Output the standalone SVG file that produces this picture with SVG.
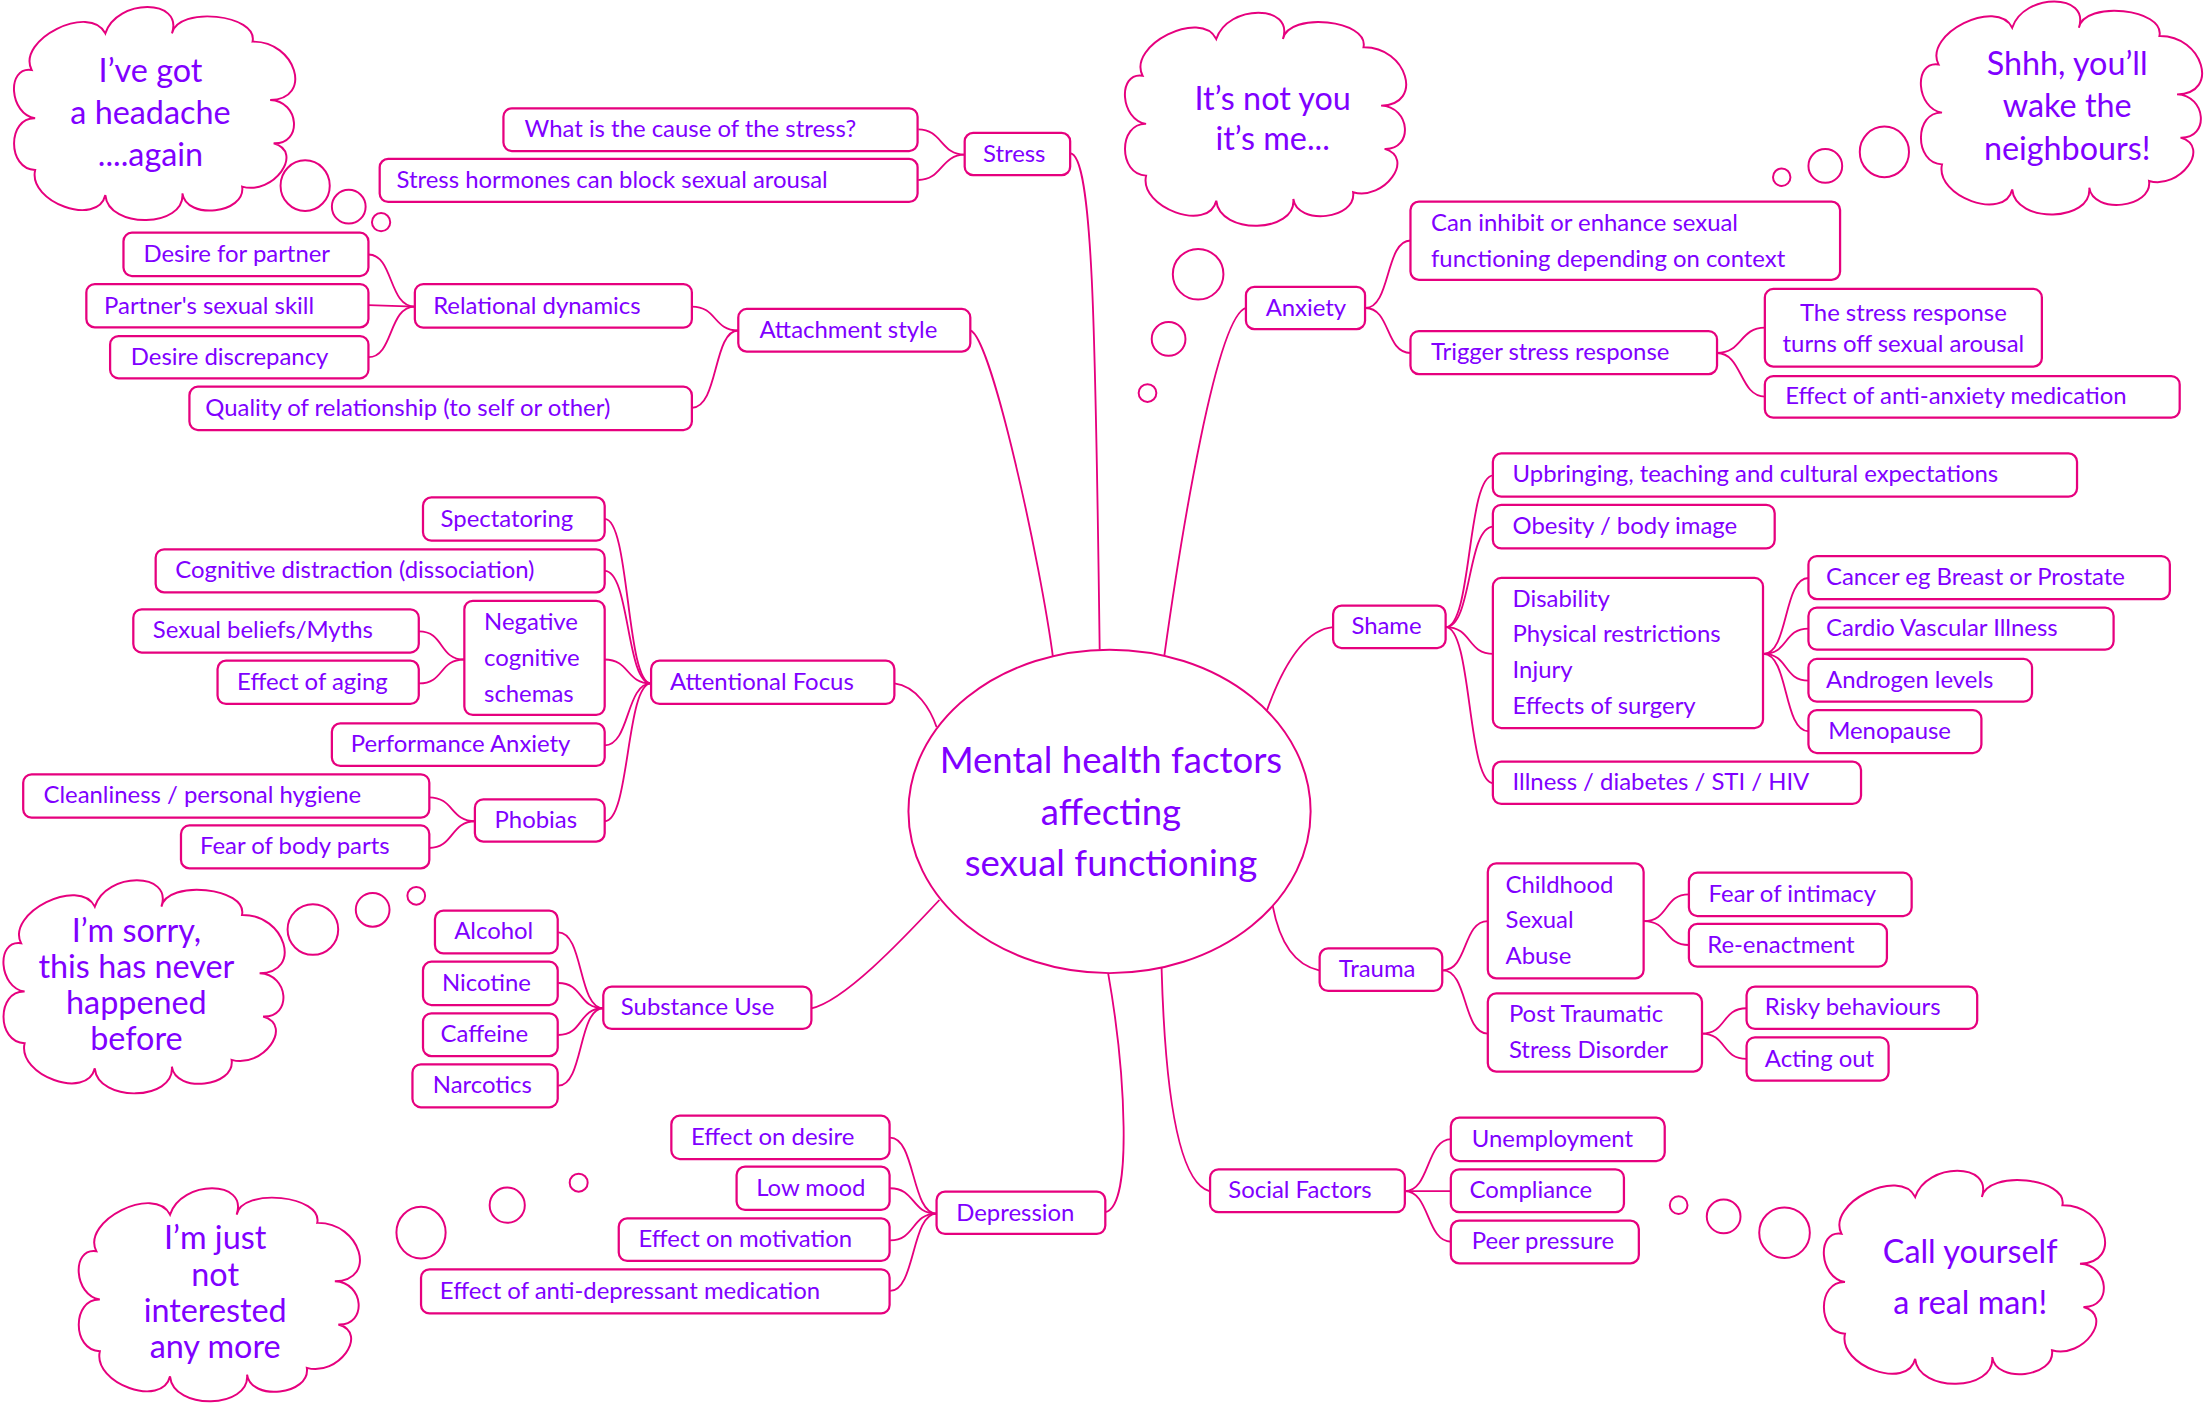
<svg xmlns="http://www.w3.org/2000/svg" width="2205" height="1404" viewBox="0 0 2205 1404">
<defs>
<style>
.b{fill:#fff;stroke:#E6007E;stroke-width:1.6}
.c{fill:none;stroke:#E6007E;stroke-width:1.3}
.cl{fill:#fff;stroke:#E6007E;stroke-width:1.4}
.t{font-family:Lato,"Open Sans",sans-serif;font-size:17px;fill:#8000FF}
.ct{font-family:Lato,"Open Sans",sans-serif;font-size:23px;fill:#8000FF;text-anchor:middle}
.mt{font-family:Lato,"Open Sans",sans-serif;font-size:26px;fill:#8000FF;text-anchor:middle}
</style>
<path id="cloud" d="M22.5,49.8 C11.57,28.13 63.97,2.03 74.9,23.7 C83.17,-1.23 130.57,-1.23 122.3,23.7 C126.37,4.17 183.67,10.07 179.6,29.6 C210.47,29.13 222.97,70.63 192.1,71.1 C212.97,71.77 215.47,102.57 194.6,101.9 C216.73,108.17 194.33,138.97 172.2,132.7 C174.93,151.9 132.43,156.7 129.7,137.5 C131.97,162.03 77.17,163.23 74.9,138.7 C69.63,161.63 19.73,143.83 25,120.9 C5,120.23 5,83.43 25,84.1 C6.67,81.5 4.17,47.2 22.5,49.8 Z"/>
</defs>
<rect width="2205" height="1404" fill="#fff"/>
<g transform="scale(1.40625)">
<g id="connectors">
<path class="c" d="M653,92 C670,92 669,110 686,110"/>
<path class="c" d="M653,128 C670,128 669,110 686,110"/>
<path class="c" d="M262,181 C280,181 276,218 295,218"/>
<path class="c" d="M262,217 L295,218"/>
<path class="c" d="M262,254 C280,254 276,218 295,218"/>
<path class="c" d="M492,218 C510,218 507,235 525,235"/>
<path class="c" d="M492,290 C511,290 507,235 525,235"/>
<path class="c" d="M971,219 C989,219 985,171 1003,171"/>
<path class="c" d="M971,219 C989,219 985,251 1003,251"/>
<path class="c" d="M1221,251 C1239,251 1237,233 1255,233"/>
<path class="c" d="M1221,251 C1239,251 1237,282 1255,282"/>
<path class="c" d="M1028,446 C1047,446 1043,338 1062,338"/>
<path class="c" d="M1028,446 C1047,446 1043,374.5 1062,374.5"/>
<path class="c" d="M1028,446 C1047,446 1043,465 1062,465"/>
<path class="c" d="M1028,446 C1047,446 1043,557 1062,557"/>
<path class="c" d="M1254,465 C1272,465 1268,411 1286,411"/>
<path class="c" d="M1254,465 C1272,465 1268,447 1286,447"/>
<path class="c" d="M1254,465 C1272,465 1268,484 1286,484"/>
<path class="c" d="M1254,465 C1272,465 1268,520 1286,520"/>
<path class="c" d="M1026,690 C1044,690 1040,655 1058,655"/>
<path class="c" d="M1026,690 C1044,690 1040,735 1058,735"/>
<path class="c" d="M1169,655 C1187,655 1183,636 1201,636"/>
<path class="c" d="M1169,655 C1187,655 1183,672 1201,672"/>
<path class="c" d="M1210,735 C1228,735 1224,717 1242,717"/>
<path class="c" d="M1210,735 C1228,735 1224,753 1242,753"/>
<path class="c" d="M999,847 C1017,847 1014,810 1032,810"/>
<path class="c" d="M999,847 L1032,847"/>
<path class="c" d="M999,847 C1017,847 1014,883 1032,883"/>
<path class="c" d="M633,809 C651,809 648,863 666,863"/>
<path class="c" d="M633,845 C651,845 648,863 666,863"/>
<path class="c" d="M633,882 C651,882 648,863 666,863"/>
<path class="c" d="M633,918 C651,918 648,863 666,863"/>
<path class="c" d="M397,663 C415,663 411,717 429,717"/>
<path class="c" d="M397,699 C415,699 411,717 429,717"/>
<path class="c" d="M397,736 C415,736 411,717 429,717"/>
<path class="c" d="M397,772 C415,772 411,717 429,717"/>
<path class="c" d="M430,369 C448,369 445,486 463,486"/>
<path class="c" d="M430,406 C448,406 445,486 463,486"/>
<path class="c" d="M430,469 C448,469 445,486 463,486"/>
<path class="c" d="M430,530 C448,530 445,486 463,486"/>
<path class="c" d="M430,584 C448,584 445,486 463,486"/>
<path class="c" d="M298,449 C316,449 312,469 330,469"/>
<path class="c" d="M298,486 C316,486 312,469 330,469"/>
<path class="c" d="M305,567 C323,567 320,584 338,584"/>
<path class="c" d="M305,603 C323,603 320,584 338,584"/>
<path class="c" d="M761,109 C777,110 779,230 782,462"/>
<path class="c" d="M690,235 C705,240 740,400 749,469"/>
<path class="c" d="M886,219 C865,225 840,380 828,466"/>
<path class="c" d="M948,446 C925,448 910,480 901,505"/>
<path class="c" d="M636,486 C652,488 662,505 666,517"/>
<path class="c" d="M577,717 C600,712 640,670 668,640"/>
<path class="c" d="M938,690 C915,685 908,660 905,644"/>
<path class="c" d="M860,847 C835,840 828,760 826,688"/>
<path class="c" d="M786,862 C806,858 800,760 788,692"/>
</g>
<g id="center">
<ellipse class="cl" cx="789" cy="577" rx="143" ry="115"/>
<text class="mt" x="790" y="550">Mental health factors</text>
<text class="mt" x="790" y="587">affecting</text>
<text class="mt" x="790" y="623">sexual functioning</text>
</g>
<g id="n_stress"><rect class="b" x="686" y="94.5" width="75" height="30" rx="6"/><text class="t" x="699" y="115">Stress</text></g>
<g id="n_cause"><rect class="b" x="358" y="77" width="294.5" height="30.4" rx="6"/><text class="t" x="373" y="97.5">What is the cause of the stress?</text></g>
<g id="n_hormones"><rect class="b" x="270" y="113" width="382.5" height="30.6" rx="6"/><text class="t" x="282" y="133.5">Stress hormones can block sexual arousal</text></g>
<g id="n_attach"><rect class="b" x="525" y="219.7" width="165" height="30.3" rx="6"/><text class="t" x="540" y="240.5">Attachment style</text></g>
<g id="n_reldyn"><rect class="b" x="295" y="202" width="197" height="31" rx="6"/><text class="t" x="308" y="223">Relational dynamics</text></g>
<g id="n_desire"><rect class="b" x="87.8" y="165.5" width="174.2" height="30.8" rx="6"/><text class="t" x="102" y="186.5">Desire for partner</text></g>
<g id="n_skill"><rect class="b" x="61.4" y="202" width="200.6" height="30.8" rx="6"/><text class="t" x="74" y="223">Partner's sexual skill</text></g>
<g id="n_discrep"><rect class="b" x="78.3" y="239" width="183.7" height="30" rx="6"/><text class="t" x="93" y="259.5">Desire discrepancy</text></g>
<g id="n_quality"><rect class="b" x="134.7" y="275" width="357.3" height="30.8" rx="6"/><text class="t" x="146" y="296">Quality of relationship (to self or other)</text></g>
<g id="n_anxiety"><rect class="b" x="886" y="204" width="84.7" height="30" rx="6"/><text class="t" x="900" y="224.5">Anxiety</text></g>
<g id="n_inhibit"><rect class="b" x="1003" y="143.4" width="305.5" height="55.6" rx="6"/><text class="t" x="1017.6" y="164">Can inhibit or enhance sexual</text><text class="t" x="1017.6" y="190">functioning depending on context</text></g>
<g id="n_trigger"><rect class="b" x="1003" y="235.4" width="218" height="30.6" rx="6"/><text class="t" x="1017.6" y="256">Trigger stress response</text></g>
<g id="n_stressresp"><rect class="b" x="1255" y="205.5" width="197" height="55.2" rx="6"/><text class="t" x="1353.5" y="228" text-anchor="middle">The stress response</text><text class="t" x="1353.5" y="250" text-anchor="middle">turns off sexual arousal</text></g>
<g id="n_antianx"><rect class="b" x="1255" y="267.4" width="295" height="29.6" rx="6"/><text class="t" x="1269.5" y="287.5">Effect of anti-anxiety medication</text></g>
<g id="n_shame"><rect class="b" x="948" y="430.7" width="80" height="30.1" rx="6"/><text class="t" x="961" y="451">Shame</text></g>
<g id="n_upbring"><rect class="b" x="1061.6" y="322.4" width="415.4" height="30.8" rx="6"/><text class="t" x="1075.6" y="343">Upbringing, teaching and cultural expectations</text></g>
<g id="n_obesity"><rect class="b" x="1061.6" y="359" width="200.4" height="31" rx="6"/><text class="t" x="1075.6" y="380">Obesity / body image</text></g>
<g id="n_disab"><rect class="b" x="1061.6" y="411" width="192.1" height="106.7" rx="6"/><text class="t" x="1075.6" y="431.5">Disability</text><text class="t" x="1075.6" y="456.5">Physical restrictions</text><text class="t" x="1075.6" y="482">Injury</text><text class="t" x="1075.6" y="507.5">Effects of surgery</text></g>
<g id="n_cancer"><rect class="b" x="1286" y="395.4" width="257" height="30.6" rx="6"/><text class="t" x="1298.5" y="416">Cancer eg Breast or Prostate</text></g>
<g id="n_cardio"><rect class="b" x="1286" y="432" width="217" height="30" rx="6"/><text class="t" x="1298.5" y="452.5">Cardio Vascular Illness</text></g>
<g id="n_androgen"><rect class="b" x="1286" y="468.6" width="159" height="30.4" rx="6"/><text class="t" x="1298.5" y="489">Androgen levels</text></g>
<g id="n_menop"><rect class="b" x="1286" y="505" width="123" height="30.5" rx="6"/><text class="t" x="1300" y="525.5">Menopause</text></g>
<g id="n_illness"><rect class="b" x="1061.6" y="541.6" width="261.8" height="30.1" rx="6"/><text class="t" x="1075.6" y="562">Illness / diabetes / STI / HIV</text></g>
<g id="n_trauma"><rect class="b" x="938.4" y="674.4" width="87.2" height="30.3" rx="6"/><text class="t" x="952" y="695">Trauma</text></g>
<g id="n_csa"><rect class="b" x="1058" y="614" width="110.8" height="81.7" rx="6"/><text class="t" x="1070.6" y="634.8">Childhood</text><text class="t" x="1070.6" y="659.7">Sexual</text><text class="t" x="1070.6" y="685.3">Abuse</text></g>
<g id="n_fear"><rect class="b" x="1201" y="620.6" width="158.4" height="30.8" rx="6"/><text class="t" x="1215" y="641.5">Fear of intimacy</text></g>
<g id="n_reenact"><rect class="b" x="1201" y="657" width="140.8" height="30.4" rx="6"/><text class="t" x="1214" y="677.5">Re-enactment</text></g>
<g id="n_ptsd"><rect class="b" x="1058" y="706.4" width="152.3" height="55.6" rx="6"/><text class="t" x="1073" y="726.5">Post Traumatic</text><text class="t" x="1073" y="752.2">Stress Disorder</text></g>
<g id="n_risky"><rect class="b" x="1242" y="701.6" width="164" height="30.1" rx="6"/><text class="t" x="1255" y="722">Risky behaviours</text></g>
<g id="n_acting"><rect class="b" x="1242" y="737.6" width="101" height="30.9" rx="6"/><text class="t" x="1255" y="758.5">Acting out</text></g>
<g id="n_social"><rect class="b" x="860.5" y="831.5" width="138.5" height="30.5" rx="6"/><text class="t" x="873.5" y="852">Social Factors</text></g>
<g id="n_unemp"><rect class="b" x="1031.7" y="794.8" width="152.1" height="30.8" rx="6"/><text class="t" x="1046.6" y="815.5">Unemployment</text></g>
<g id="n_compl"><rect class="b" x="1031.7" y="831.5" width="123.1" height="30.5" rx="6"/><text class="t" x="1045" y="852">Compliance</text></g>
<g id="n_peer"><rect class="b" x="1031.7" y="868" width="133.7" height="30.4" rx="6"/><text class="t" x="1046.6" y="888.5">Peer pressure</text></g>
<g id="n_depr"><rect class="b" x="666" y="847.4" width="120" height="30.1" rx="6"/><text class="t" x="680" y="868">Depression</text></g>
<g id="n_effdesire"><rect class="b" x="477.4" y="793.4" width="155.2" height="30.8" rx="6"/><text class="t" x="491.4" y="814">Effect on desire</text></g>
<g id="n_lowmood"><rect class="b" x="523.8" y="829.6" width="108.8" height="30.8" rx="6"/><text class="t" x="537.7" y="850.5">Low mood</text></g>
<g id="n_effmot"><rect class="b" x="440" y="866.4" width="192.6" height="30.3" rx="6"/><text class="t" x="454" y="887">Effect on motivation</text></g>
<g id="n_antidep"><rect class="b" x="299.4" y="902.6" width="333.2" height="31.4" rx="6"/><text class="t" x="312.8" y="923.5">Effect of anti-depressant medication</text></g>
<g id="n_subst"><rect class="b" x="429" y="701.6" width="148" height="30.1" rx="6"/><text class="t" x="441.5" y="722">Substance Use</text></g>
<g id="n_alcohol"><rect class="b" x="309.3" y="647.6" width="87.3" height="30.4" rx="6"/><text class="t" x="323" y="668">Alcohol</text></g>
<g id="n_nicotine"><rect class="b" x="300.8" y="683.9" width="95.8" height="30.8" rx="6"/><text class="t" x="314.3" y="704.5">Nicotine</text></g>
<g id="n_caffeine"><rect class="b" x="300.8" y="720.6" width="95.8" height="30.4" rx="6"/><text class="t" x="313.3" y="741">Caffeine</text></g>
<g id="n_narcotics"><rect class="b" x="293.3" y="756.8" width="103.3" height="30.6" rx="6"/><text class="t" x="307.8" y="777.5">Narcotics</text></g>
<g id="n_af"><rect class="b" x="463" y="469.8" width="173" height="30.8" rx="6"/><text class="t" x="476.4" y="490.5">Attentional Focus</text></g>
<g id="n_spect"><rect class="b" x="300.8" y="353.7" width="129.2" height="30.8" rx="6"/><text class="t" x="313.3" y="374.5">Spectatoring</text></g>
<g id="n_cogdist"><rect class="b" x="110.7" y="390.6" width="319.3" height="30.6" rx="6"/><text class="t" x="124.7" y="411">Cognitive distraction (dissociation)</text></g>
<g id="n_beliefs"><rect class="b" x="94.8" y="433.3" width="203" height="30.7" rx="6"/><text class="t" x="108.7" y="454">Sexual beliefs/Myths</text></g>
<g id="n_aging"><rect class="b" x="154.7" y="469.8" width="143.1" height="30.8" rx="6"/><text class="t" x="168.6" y="490.5">Effect of aging</text></g>
<g id="n_negcog"><rect class="b" x="330.2" y="427.2" width="99.8" height="81.2" rx="6"/><text class="t" x="344.2" y="448">Negative</text><text class="t" x="344.2" y="473.5">cognitive</text><text class="t" x="344.2" y="499">schemas</text></g>
<g id="n_perf"><rect class="b" x="236" y="514.4" width="194" height="30.3" rx="6"/><text class="t" x="249.4" y="535">Performance Anxiety</text></g>
<g id="n_phobias"><rect class="b" x="337.7" y="568.4" width="92.3" height="30.1" rx="6"/><text class="t" x="351.7" y="589">Phobias</text></g>
<g id="n_clean"><rect class="b" x="16.5" y="550.6" width="288.8" height="30.9" rx="6"/><text class="t" x="30.9" y="571">Cleanliness / personal hygiene</text></g>
<g id="n_fearbody"><rect class="b" x="128.7" y="587" width="176.6" height="30.5" rx="6"/><text class="t" x="142.2" y="607.5">Fear of body parts</text></g>
<g id="cloud_headache">
<use href="#cloud" class="cl"/>
<ellipse class="cl" cx="217" cy="132" rx="17.5" ry="18"/><ellipse class="cl" cx="248" cy="147" rx="12" ry="12"/><ellipse class="cl" cx="271" cy="158" rx="6.5" ry="6.5"/>
<text class="ct" x="107" y="58">I’ve got</text><text class="ct" x="107" y="88">a headache</text><text class="ct" x="107" y="118">....again</text>
</g>
<g id="cloud_notyou">
<use href="#cloud" class="cl" transform="translate(790,4)"/>
<ellipse class="cl" cx="852" cy="195" rx="18" ry="18"/><ellipse class="cl" cx="831" cy="241" rx="12" ry="12"/><ellipse class="cl" cx="816" cy="279.5" rx="6.3" ry="6.3"/>
<text class="ct" x="905" y="78">It’s not you</text><text class="ct" x="905" y="107">it’s me...</text>
</g>
<g id="cloud_shhh">
<use href="#cloud" class="cl" transform="translate(1356,-4)"/>
<ellipse class="cl" cx="1340" cy="108" rx="17.5" ry="18"/><ellipse class="cl" cx="1298" cy="118" rx="12" ry="12"/><ellipse class="cl" cx="1267" cy="126" rx="6.2" ry="6.2"/>
<text class="ct" x="1470" y="53">Shhh, you’ll</text><text class="ct" x="1470" y="83.5">wake the</text><text class="ct" x="1470" y="113.5">neighbours!</text>
</g>
<g id="cloud_sorry">
<use href="#cloud" class="cl" transform="translate(-7.5,621)"/>
<ellipse class="cl" cx="222.5" cy="661" rx="18" ry="18"/><ellipse class="cl" cx="265" cy="647" rx="12" ry="12"/><ellipse class="cl" cx="296" cy="637" rx="6.3" ry="6.3"/>
<text class="ct" x="97" y="670">I’m sorry,</text><text class="ct" x="97" y="695.5">this has never</text><text class="ct" x="97" y="721">happened</text><text class="ct" x="97" y="747">before</text>
</g>
<g id="cloud_notint">
<use href="#cloud" class="cl" transform="translate(46,840)"/>
<ellipse class="cl" cx="299.4" cy="876.5" rx="17.5" ry="18.4"/><ellipse class="cl" cx="360.7" cy="857" rx="12.5" ry="12.5"/><ellipse class="cl" cx="411.5" cy="841" rx="6.4" ry="6.4"/>
<text class="ct" x="153" y="888.5">I’m just</text><text class="ct" x="153" y="914.5">not</text><text class="ct" x="153" y="940">interested</text><text class="ct" x="153" y="966">any more</text>
</g>
<g id="cloud_realman">
<use href="#cloud" class="cl" transform="translate(1287,827.5)"/>
<ellipse class="cl" cx="1269" cy="876.6" rx="18" ry="18"/><ellipse class="cl" cx="1225.7" cy="865" rx="12" ry="12"/><ellipse class="cl" cx="1193.7" cy="857" rx="6.3" ry="6.3"/>
<text class="ct" x="1401" y="898">Call yourself</text><text class="ct" x="1401" y="934.5">a real man!</text>
</g>
</g>
</svg>
